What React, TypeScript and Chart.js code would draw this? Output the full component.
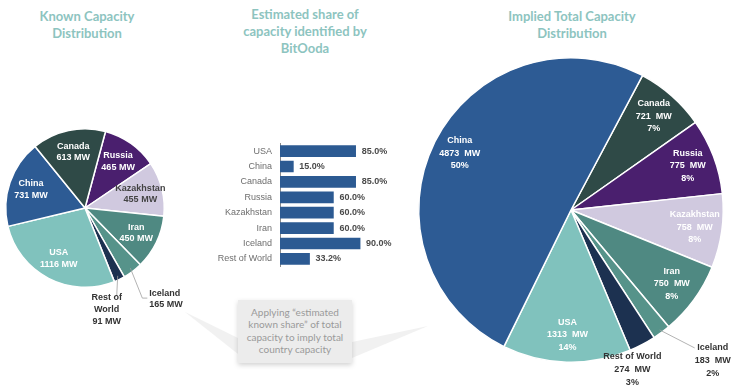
import React, { useEffect, useRef } from 'react';
import { Chart, registerables } from 'chart.js';

Chart.register(...registerables);

// ---- Data ----
const knownCountries = ['Russia', 'Kazakhstan', 'Iran', 'Iceland', 'Rest of World', 'USA', 'China', 'Canada'];
const knownMW = [465, 455, 450, 165, 91, 1116, 731, 613];

const shareCountries = ['USA', 'China', 'Canada', 'Russia', 'Kazakhstan', 'Iran', 'Iceland', 'Rest of World'];
const shareValues = [85.0, 15.0, 85.0, 60.0, 60.0, 60.0, 90.0, 33.2];

const impliedCountries = ['Canada', 'Russia', 'Kazakhstan', 'Iran', 'Iceland', 'Rest of World', 'USA', 'China'];
const impliedMW = [721, 775, 758, 750, 183, 274, 1313, 4873];
const impliedPctLabels = ['7%', '8%', '8%', '8%', '2%', '3%', '14%', '50%'];

const countryColors: Record<string, string> = {
  China: '#2D5B94',
  Canada: '#2F4A47',
  Russia: '#4A1F6E',
  Kazakhstan: '#D0C9DF',
  Iran: '#4F8982',
  Iceland: '#56938A',
  'Rest of World': '#1C3150',
  USA: '#80C2BD',
};

const LABEL_FONT = '"Liberation Sans", Arial, sans-serif';
const TITLE_FONT = 'Lato, "Open Sans", sans-serif';

type OutsideCfg = { r: number; line?: number[][]; tx: number; ty: number; align: CanvasTextAlign };

function pieLabelPlugin(cfg: {
  lines: string[][];
  radial: number;
  lineH: number;
  font: string;
  colors: (string | null)[];
  outside: (OutsideCfg | null)[];
  outLineH: number;
}) {
  return {
    id: 'pieLabels',
    afterDatasetsDraw(chart: any) {
      const ctx = chart.ctx as CanvasRenderingContext2D;
      const meta = chart.getDatasetMeta(0);
      meta.data.forEach((arc: any, i: number) => {
        const p = arc.getProps(['x', 'y', 'startAngle', 'endAngle', 'outerRadius'], true);
        const mid = (p.startAngle + p.endAngle) / 2;
        const lines = cfg.lines[i];
        const out = cfg.outside[i];
        ctx.save();
        ctx.font = cfg.font;
        ctx.textBaseline = 'middle';
        if (!out) {
          const cx = p.x + Math.cos(mid) * p.outerRadius * cfg.radial;
          const cy = p.y + Math.sin(mid) * p.outerRadius * cfg.radial;
          ctx.fillStyle = cfg.colors[i] || '#ffffff';
          ctx.textAlign = 'center';
          lines.forEach((l, k) => ctx.fillText(l, cx, cy + (k - (lines.length - 1) / 2) * cfg.lineH));
        } else {
          const ax = p.x + Math.cos(mid) * p.outerRadius * out.r;
          const ay = p.y + Math.sin(mid) * p.outerRadius * out.r;
          if (out.line) {
            ctx.beginPath();
            ctx.moveTo(ax, ay);
            out.line.forEach(([dx, dy]) => ctx.lineTo(ax + dx, ay + dy));
            ctx.strokeStyle = '#a0a0a0';
            ctx.lineWidth = 0.8;
            ctx.stroke();
          }
          ctx.fillStyle = '#333333';
          ctx.textAlign = out.align;
          lines.forEach((l, k) => ctx.fillText(l, ax + out.tx, ay + out.ty + k * cfg.outLineH));
        }
        ctx.restore();
      });
    },
  };
}

const barValuePlugin = {
  id: 'barValues',
  afterDatasetsDraw(chart: any) {
    const ctx = chart.ctx as CanvasRenderingContext2D;
    const meta = chart.getDatasetMeta(0);
    ctx.save();
    ctx.font = `bold 9px ${LABEL_FONT}`;
    ctx.fillStyle = '#4a4a4a';
    ctx.textAlign = 'left';
    ctx.textBaseline = 'middle';
    meta.data.forEach((bar: any, i: number) => {
      const p = bar.getProps(['x', 'y'], true);
      ctx.fillText(shareValues[i].toFixed(1) + '%', p.x + 6, p.y);
    });
    ctx.restore();
  },
};

export default function App() {
  const leftRef = useRef<HTMLCanvasElement>(null);
  const barRef = useRef<HTMLCanvasElement>(null);
  const rightRef = useRef<HTMLCanvasElement>(null);

  useEffect(() => {
    const charts: Chart[] = [];

    // Left pie: known capacity
    const leftLines = knownCountries.map((c, i) => {
      if (c === 'Rest of World') return ['Rest of', 'World', `${knownMW[i]} MW`];
      return [c, `${knownMW[i]} MW`];
    });
    charts.push(
      new Chart(leftRef.current!, {
        type: 'pie',
        data: {
          labels: knownCountries,
          datasets: [
            {
              data: knownMW,
              backgroundColor: knownCountries.map((c) => countryColors[c]),
              borderColor: '#ffffff',
              borderWidth: 1.5,
            },
          ],
        },
        options: {
          animation: false,
          responsive: false,
          rotation: 15,
          layout: { padding: { left: 5, right: 35, top: 28, bottom: 52 } },
          plugins: { legend: { display: false }, tooltip: { enabled: false } },
        },
        plugins: [
          pieLabelPlugin({
            lines: leftLines,
            radial: 0.72,
            lineH: 11.5,
            font: `bold 9px ${LABEL_FONT}`,
            colors: knownCountries.map((c) => (c === 'Kazakhstan' ? '#444444' : null)),
            outside: knownCountries.map((c) => {
              if (c === 'Iceland') return { r: 0.95, line: [[12, 30], [17, 30]], tx: 19, ty: 25, align: 'left' as CanvasTextAlign };
              if (c === 'Rest of World') return { r: 0.95, line: [[-1, 20]], tx: -11, ty: 22, align: 'center' as CanvasTextAlign };
              return null;
            }),
            outLineH: 11.8,
          }),
        ],
      })
    );

    // Bar chart: estimated share
    charts.push(
      new Chart(barRef.current!, {
        type: 'bar',
        data: {
          labels: shareCountries,
          datasets: [{ data: shareValues, backgroundColor: '#2C5A92', barThickness: 11 }],
        },
        options: {
          animation: false,
          responsive: false,
          indexAxis: 'y',
          layout: { padding: { top: 9, bottom: 2, right: 41, left: 0 } },
          plugins: { legend: { display: false }, tooltip: { enabled: false } },
          scales: {
            x: { display: false, min: 0, max: 100 },
            y: {
              grid: { display: false, drawTicks: false },
              border: { display: true, color: '#8a8a8a', width: 1 },
              ticks: { color: '#6e6e6e', font: { family: LABEL_FONT, size: 9 }, padding: 8 },
              afterFit: (s: any) => {
                s.width = 80;
              },
            },
          },
        },
        plugins: [barValuePlugin],
      })
    );

    // Right pie: implied total capacity
    const rightLines = impliedCountries.map((c, i) => [c, `${impliedMW[i]}  MW`, impliedPctLabels[i]]);
    charts.push(
      new Chart(rightRef.current!, {
        type: 'pie',
        data: {
          labels: impliedCountries,
          datasets: [
            {
              data: impliedMW,
              backgroundColor: impliedCountries.map((c) => countryColors[c]),
              borderColor: '#ffffff',
              borderWidth: 1.5,
            },
          ],
        },
        options: {
          animation: false,
          responsive: false,
          rotation: 28,
          layout: { padding: { left: 18, right: 20, top: 17, bottom: 25 } },
          plugins: { legend: { display: false }, tooltip: { enabled: false } },
        },
        plugins: [
          pieLabelPlugin({
            lines: rightLines,
            radial: 0.82,
            lineH: 12.5,
            font: `bold 9px ${LABEL_FONT}`,
            colors: impliedCountries.map(() => null),
            outside: impliedCountries.map((c) => {
              if (c === 'Iceland') return { r: 0.98, line: [[35, 18]], tx: 53, ty: 17.5, align: 'center' as CanvasTextAlign };
              if (c === 'Rest of World') return { r: 1.0, tx: -10, ty: 12, align: 'center' as CanvasTextAlign };
              return null;
            }),
            outLineH: 12.8,
          }),
        ],
      })
    );

    return () => charts.forEach((c) => c.destroy());
  }, []);

  const titleStyle: React.CSSProperties = {
    position: 'absolute',
    width: 220,
    textAlign: 'center',
    fontFamily: TITLE_FONT,
    fontWeight: 700,
    fontSize: 13,
    lineHeight: '17px',
    color: '#8DC4BF',
  };

  return (
    <div style={{ position: 'fixed', left: 0, top: 0, width: 744, height: 388, background: '#ffffff', overflow: 'hidden' }}>
      <div style={{ ...titleStyle, left: 87 - 110, top: 8 }}>
        Known Capacity
        <br />
        Distribution
      </div>
      <div style={{ ...titleStyle, left: 305 - 110, top: 6 }}>
        Estimated share of
        <br />
        capacity identified by
        <br />
        BitOoda
      </div>
      <div style={{ ...titleStyle, left: 572 - 110, top: 8 }}>
        Implied Total Capacity
        <br />
        Distribution
      </div>

      <svg width={744} height={388} style={{ position: 'absolute', left: 0, top: 0 }}>
        <defs>
          <filter id="sh" x="-20%" y="-20%" width="140%" height="150%">
            <feDropShadow dx="0" dy="2" stdDeviation="2.5" floodColor="#000" floodOpacity="0.18" />
          </filter>
        </defs>
        <polygon points="185,312 238,338 238,354" fill="#eeeeee" opacity={0.8} />
        <polygon points="352,342 352,358 428,326" fill="#eeeeee" opacity={0.8} />
        <rect x={238} y={300} width={114} height={63} fill="#ececec" filter="url(#sh)" />
      </svg>
      <div
        style={{
          position: 'absolute',
          left: 238,
          top: 306,
          width: 114,
          textAlign: 'center',
          fontFamily: TITLE_FONT,
          fontSize: 10,
          lineHeight: '12.4px',
          color: '#9a9a9a',
        }}
      >
        Applying “estimated
        <br />
        known share” of total
        <br />
        capacity to imply total
        <br />
        country capacity
      </div>

      <canvas ref={leftRef} width={200} height={240} style={{ position: 'absolute', left: 0, top: 100, width: 200, height: 240 }} />
      <canvas ref={barRef} width={210} height={150} style={{ position: 'absolute', left: 200, top: 130, width: 210, height: 150 }} />
      <canvas ref={rightRef} width={344} height={348} style={{ position: 'absolute', left: 400, top: 40, width: 344, height: 348 }} />
    </div>
  );
}
